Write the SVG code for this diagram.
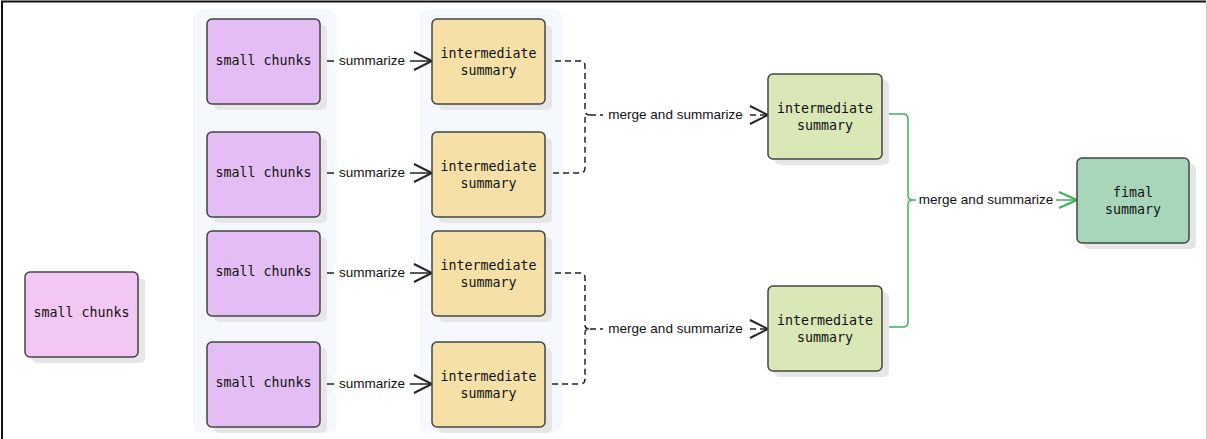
<svg xmlns="http://www.w3.org/2000/svg" width="1207" height="439" viewBox="0 0 1207 439">
<style>
.panel{fill:#f5f9fd;}
.shadow{fill:#e6e6e6;}
.box{stroke:#444;stroke-width:1.5;}
.chunk{fill:#e4bdf4;}
.chunk0{fill:#f2c8f2;}
.inter{fill:#f5e0a8;}
.green{fill:#dae7b7;}
.final{fill:#a8d6bb;}
.nt{font-family:"DejaVu Sans Mono","Liberation Mono",monospace;font-size:13.3px;fill:#111;text-anchor:middle;dominant-baseline:central;}
.et{font-family:"Liberation Sans","Noto Sans",sans-serif;font-size:13.5px;fill:#111;text-anchor:middle;dominant-baseline:central;}
.lbg{fill:#ffffff;}
.solid{fill:none;stroke:#222;stroke-width:1.5;}
.dash{fill:none;stroke:#222;stroke-width:1.5;stroke-dasharray:6 4;}
.gline{fill:none;stroke:#3fb15a;stroke-width:1.5;}
</style>
<defs>
<marker id="ab" markerUnits="userSpaceOnUse" markerWidth="22" markerHeight="22" viewBox="-20 -11 22 22" refX="0" refY="0" orient="auto">
<path d="M-18,-9 L0,0 L-18,9" fill="none" stroke="#222" stroke-width="2"/>
</marker>
<marker id="ag" markerUnits="userSpaceOnUse" markerWidth="22" markerHeight="22" viewBox="-20 -11 22 22" refX="0" refY="0" orient="auto">
<path d="M-18,-8 L0,0 L-18,8" fill="none" stroke="#3fb15a" stroke-width="2"/>
</marker>
</defs>
<rect x="0" y="0" width="1207" height="439" fill="#ffffff"/>
<path d="M2,439 V1.5 H1206" fill="none" stroke="#111" stroke-width="2"/>
<line x1="1206.5" y1="3" x2="1206.5" y2="439" stroke="#d0d0d0" stroke-width="1"/>

<g id="panel-chunks"><rect class="panel" x="193" y="9" width="144" height="424" rx="10"/></g>
<g id="panel-inter"><rect class="panel" x="419" y="9" width="144" height="424" rx="10"/></g>

<g id="connectors">
<line class="solid" x1="320" y1="61" x2="432" y2="61" marker-end="url(#ab)"/>
<line class="solid" x1="320" y1="173" x2="432" y2="173" marker-end="url(#ab)"/>
<line class="solid" x1="320" y1="273" x2="432" y2="273" marker-end="url(#ab)"/>
<line class="solid" x1="320" y1="384" x2="432" y2="384" marker-end="url(#ab)"/>
<rect class="lbg" x="334" y="52" width="76" height="18"/>
<text class="et" x="372" y="60">summarize</text>
<rect class="lbg" x="334" y="164" width="76" height="18"/>
<text class="et" x="372" y="172">summarize</text>
<rect class="lbg" x="334" y="264" width="76" height="18"/>
<text class="et" x="372" y="272">summarize</text>
<rect class="lbg" x="334" y="375" width="76" height="18"/>
<text class="et" x="372" y="383">summarize</text>

<path class="dash" d="M545,61 H580 Q585,61 585,66 V111 Q585,115 590,115 Q585,115 585,119 V168 Q585,173 580,173 H545"/>
<path class="dash" d="M590,115 H768" marker-end="url(#ab)"/>
<rect class="lbg" x="603" y="106" width="145" height="18"/>
<text class="et" x="675.5" y="114">merge and summarize</text>

<path class="dash" d="M545,273 H580 Q585,273 585,278 V325 Q585,329 590,329 Q585,329 585,333 V379 Q585,384 580,384 H545"/>
<path class="dash" d="M590,329 H768" marker-end="url(#ab)"/>
<rect class="lbg" x="603" y="320" width="145" height="18"/>
<text class="et" x="675.5" y="328">merge and summarize</text>

<path class="gline" d="M882,114 H903 Q908,114 908,119 V196 Q908,200 913,200 Q908,200 908,204 V322 Q908,327 903,327 H882"/>
<path class="gline" d="M913,200 H1077" marker-end="url(#ag)"/>
<rect class="lbg" x="916" y="191" width="140" height="18"/>
<text class="et" x="986" y="199">merge and summarize</text>
</g>

<g id="node-chunk-0">
<rect class="shadow" x="32" y="278" width="113" height="85" rx="5"/>
<rect class="box chunk0" x="25" y="272" width="113" height="85" rx="5"/>
<text class="nt" x="81.5" y="312">small chunks</text>
</g>

<g id="node-chunk-1">
<rect class="shadow" x="214" y="25" width="113" height="85" rx="5"/>
<rect class="box chunk" x="207" y="19" width="113" height="85" rx="5"/>
<text class="nt" x="263.5" y="60">small chunks</text>
</g>
<g id="node-chunk-2">
<rect class="shadow" x="214" y="138" width="113" height="85" rx="5"/>
<rect class="box chunk" x="207" y="132" width="113" height="85" rx="5"/>
<text class="nt" x="263.5" y="172">small chunks</text>
</g>
<g id="node-chunk-3">
<rect class="shadow" x="214" y="237" width="113" height="85" rx="5"/>
<rect class="box chunk" x="207" y="231" width="113" height="85" rx="5"/>
<text class="nt" x="263.5" y="271">small chunks</text>
</g>
<g id="node-chunk-4">
<rect class="shadow" x="214" y="348" width="113" height="85" rx="5"/>
<rect class="box chunk" x="207" y="342" width="113" height="85" rx="5"/>
<text class="nt" x="263.5" y="382">small chunks</text>
</g>

<g id="node-inter-1">
<rect class="shadow" x="439" y="25" width="113" height="85" rx="5"/>
<rect class="box inter" x="432" y="19" width="113" height="85" rx="5"/>
<text class="nt" x="488.5" y="53">intermediate</text>
<text class="nt" x="488.5" y="70">summary</text>
</g>
<g id="node-inter-2">
<rect class="shadow" x="439" y="138" width="113" height="85" rx="5"/>
<rect class="box inter" x="432" y="132" width="113" height="85" rx="5"/>
<text class="nt" x="488.5" y="166">intermediate</text>
<text class="nt" x="488.5" y="183">summary</text>
</g>
<g id="node-inter-3">
<rect class="shadow" x="439" y="237" width="113" height="85" rx="5"/>
<rect class="box inter" x="432" y="231" width="113" height="85" rx="5"/>
<text class="nt" x="488.5" y="265">intermediate</text>
<text class="nt" x="488.5" y="282">summary</text>
</g>
<g id="node-inter-4">
<rect class="shadow" x="439" y="348" width="113" height="85" rx="5"/>
<rect class="box inter" x="432" y="342" width="113" height="85" rx="5"/>
<text class="nt" x="488.5" y="376">intermediate</text>
<text class="nt" x="488.5" y="393">summary</text>
</g>

<g id="node-merge-1">
<rect class="shadow" x="775" y="80" width="114" height="85" rx="5"/>
<rect class="box green" x="768" y="74" width="114" height="85" rx="5"/>
<text class="nt" x="825" y="108">intermediate</text>
<text class="nt" x="825" y="125">summary</text>
</g>
<g id="node-merge-2">
<rect class="shadow" x="775" y="292" width="114" height="85" rx="5"/>
<rect class="box green" x="768" y="286" width="114" height="85" rx="5"/>
<text class="nt" x="825" y="320">intermediate</text>
<text class="nt" x="825" y="337">summary</text>
</g>

<g id="node-final">
<rect class="shadow" x="1084" y="164" width="112" height="85" rx="5"/>
<rect class="box final" x="1077" y="158" width="112" height="85" rx="5"/>
<text class="nt" x="1133" y="192">fimal</text>
<text class="nt" x="1133" y="209">summary</text>
</g>
</svg>
